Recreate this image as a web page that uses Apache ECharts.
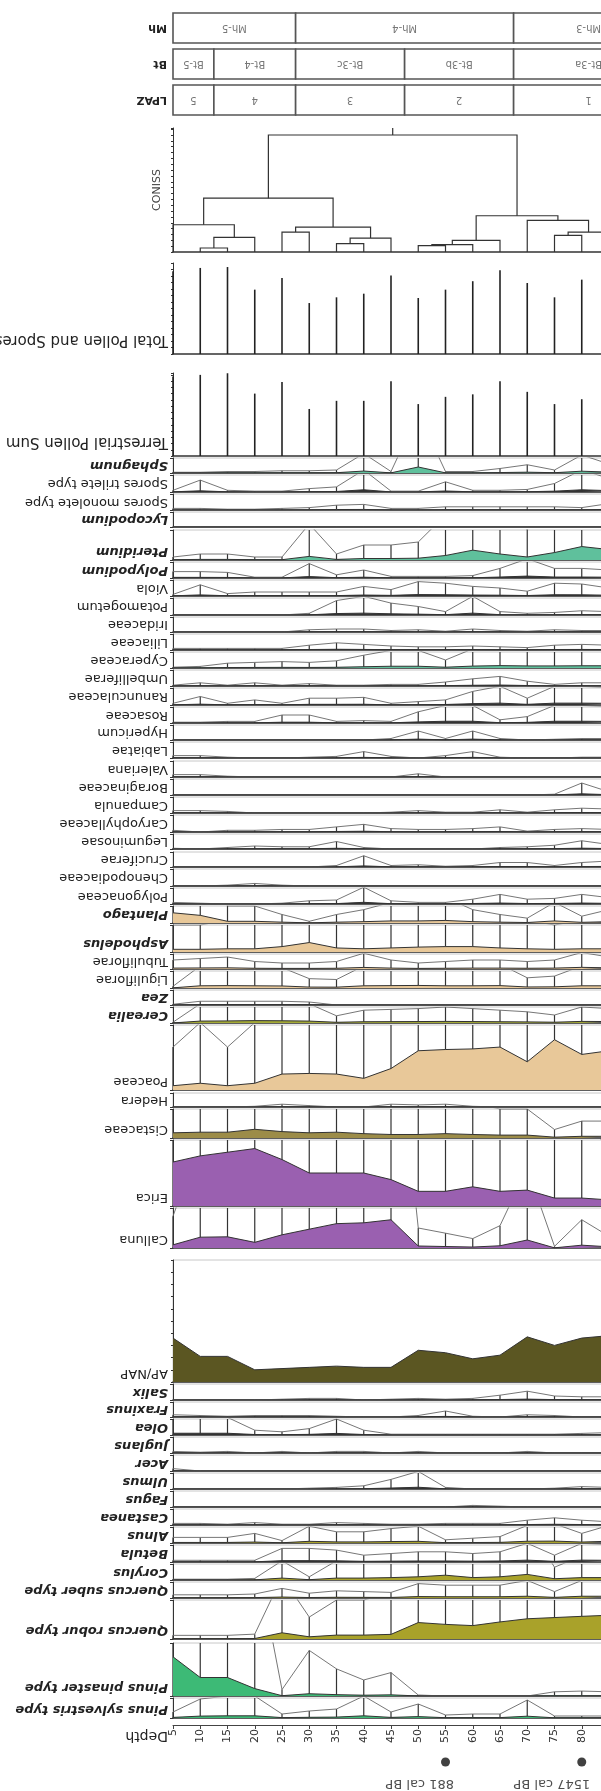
<!DOCTYPE html>
<html>
<head>
<meta charset="utf-8">
<script src="https://cdn.jsdelivr.net/npm/echarts@6/dist/echarts.min.js"></script>
<style>
html, body { margin: 0; padding: 0; background: #fff; overflow: hidden; }
#chart { width: 620px; height: 1791px; }
</style>
</head>
<body>
<div id="chart"></div>
<script>
// sample depths (cm)
const depths = [5, 10, 15, 20, 25, 30, 35, 40, 45, 50, 55, 60, 65, 70, 75, 80, 85];

// pollen sums (grains)
const totalPollen = [637, 662, 669, 495, 585, 392, 436, 464, 603, 431, 495, 560, 644, 546, 436, 572, 520];
const terrestrialSum = [637, 650, 663, 500, 592, 377, 442, 442, 598, 416, 474, 494, 598, 514, 416, 455, 480];

// CONISS merges: [a, b, height]; ids < 17 are samples, later ids are merges in order
const conissMerges = [
    [1, 2, 0.34], [17, 3, 1.25], [0, 18, 2.33], [4, 5, 1.7], [6, 7, 0.71], [21, 8, 1.19],
    [20, 22, 2.13], [19, 23, 4.6], [9, 10, 0.55], [25, 11, 0.63], [26, 12, 0.99],
    [14, 15, 1.42], [28, 16, 1.7], [13, 29, 2.7], [27, 30, 3.1], [24, 31, 10.0]
];

// zones (depth limits)
const mhBounds = [5, 27.5, 67.5, 95];
const mhNames = ['Mh-5', 'Mh-4', 'Mh-3'];
const btBounds = [5, 12.5, 27.5, 47.5, 67.5, 95];
const btNames = ['Bt-5', 'Bt-4', 'Bt-3c', 'Bt-3b', 'Bt-3a'];
const lpazBounds = [5, 12.5, 27.5, 47.5, 67.5, 95];
const lpazNames = ['5', '4', '3', '2', '1'];

// taxa percentages
const sphagnum = [0.05, 0.05, 0.1, 0.1, 0.15, 0.15, 0.2, 1.3, 0.1, 4, 0.1, 0.1, 0.3, 0.55, 0.2, 1.2, 0.6];
const sporesTrilete = [0.1, 0.7, 0.1, 0.05, 0.05, 0.2, 0.3, 1.3, 0.05, 0.05, 0.6, 0.1, 0.1, 0.15, 0.5, 1.3, 0.8];
const sporesMonolete = [0.1, 0.1, 0.05, 0.05, 0.1, 0.15, 0.3, 0.35, 0.1, 0.1, 0.2, 0.2, 0.2, 0.2, 0.2, 0.15, 0.4];
const lycopodium = [0, 0, 0, 0, 0, 0, 0, 0, 0, 0, 0, 0, 0, 0, 0, 0, 0];
const pteridium = [0.25, 0.5, 0.5, 0.25, 0.25, 3, 0.5, 1.25, 1.25, 1.5, 3.75, 8.2, 5, 2.5, 6.2, 11.2, 8.7];
const polypodium = [0.4, 0.4, 0.35, 0.05, 0.05, 0.9, 0.2, 0.5, 0.1, 0.1, 0.1, 0.15, 0.6, 1.2, 0.6, 0.6, 0.5];
const viola = [0.1, 0.7, 0.15, 0.25, 0.25, 0.25, 0.25, 0.6, 0.4, 0.9, 0.8, 0.6, 0.5, 0.3, 0.8, 0.75, 0.5];
const potamogetum = [0, 0, 0, 0, 0, 0.1, 0.85, 1.1, 0.7, 0.5, 0.2, 1.1, 0.2, 0.1, 0.15, 0.25, 0.2];
const iridaceae = [0, 0, 0, 0, 0, 0.15, 0.2, 0.2, 0.1, 0.15, 0.05, 0.2, 0.1, 0.05, 0.15, 0.1, 0.1];
const liliaceae = [0.1, 0.1, 0.1, 0.1, 0.1, 0.3, 0.45, 0.35, 0.25, 0.2, 0.2, 0.25, 0.2, 0.15, 0.3, 0.35, 0.3];
const cyperaceae = [0.05, 0.1, 0.3, 0.35, 0.4, 0.35, 0.45, 0.8, 1.1, 1.1, 0.5, 1.2, 1.5, 1.3, 1.3, 1.4, 1.4];
const umbelliferae = [0.05, 0.2, 0.05, 0.2, 0.05, 0.15, 0.05, 0.05, 0.1, 0.1, 0.25, 0.45, 0.6, 0.3, 0.1, 0.2, 0.2];
const ranunculaceae = [0.1, 0.5, 0.1, 0.3, 0.1, 0.4, 0.4, 0.45, 0.1, 0.2, 0.3, 0.8, 1.1, 0.4, 1.1, 1.1, 1.0];
const rosaceae = [0.05, 0.05, 0.1, 0.1, 0.5, 0.5, 0.1, 0.15, 0.1, 0.7, 1.1, 1.1, 0.2, 0.4, 1.1, 1.1, 1.0];
const hypericum = [0, 0, 0, 0, 0, 0, 0, 0, 0.1, 0.6, 0.1, 0.6, 0.1, 0, 0.05, 0.1, 0.1];
const labiatae = [0.15, 0.15, 0.05, 0, 0, 0.05, 0.1, 0.4, 0.1, 0, 0.15, 0.4, 0.05, 0, 0, 0.05, 0.05];
const valeriana = [0.15, 0.15, 0.05, 0, 0, 0, 0, 0, 0, 0.2, 0, 0, 0, 0, 0, 0, 0];
const boraginaceae = [0, 0, 0, 0, 0, 0, 0, 0, 0, 0, 0, 0, 0, 0, 0.05, 0.75, 0.2];
const campanula = [0.15, 0.15, 0.1, 0, 0, 0, 0, 0, 0.05, 0.15, 0.05, 0.05, 0.2, 0.05, 0.2, 0.3, 0.25];
const caryophyllaceae = [0.1, 0, 0.1, 0.1, 0.15, 0.15, 0.3, 0.45, 0.2, 0.15, 0.15, 0.2, 0.3, 0.05, 0.15, 0.2, 0.15];
const leguminosae = [0.05, 0, 0.1, 0.2, 0.15, 0.15, 0.5, 0.1, 0, 0, 0, 0, 0.1, 0.15, 0.25, 0.55, 0.3];
const cruciferae = [0, 0, 0, 0, 0, 0, 0.1, 0.75, 0.1, 0.15, 0.05, 0.1, 0.3, 0.3, 0.1, 0.3, 0.4];
const chenopodiaceae = [0, 0, 0.05, 0.15, 0.05, 0, 0, 0, 0, 0, 0, 0, 0, 0, 0, 0, 0];
const polygonaceae = [0.1, 0.05, 0, 0, 0.05, 0.2, 0.25, 1.05, 0.2, 0.1, 0.1, 0.3, 0.6, 0.3, 0.35, 0.6, 0.4];
const plantago = [8.4, 6.3, 1.4, 1.4, 0.7, 0.14, 0.7, 1.1, 1.7, 1.7, 2.1, 1.1, 0.7, 0.4, 1.7, 0.56, 1.1];
const asphodelus = [2.2, 2.2, 2.6, 2.6, 4.4, 7.7, 3.3, 2.6, 3.3, 4, 4.4, 4.4, 3.3, 2.6, 2.2, 2.6, 2.6];
const tubuliflorae = [0.6, 0.7, 0.8, 0.5, 0.4, 0.4, 0.5, 1.05, 0.6, 0.4, 0.5, 0.6, 0.6, 0.5, 0.6, 1.1, 0.8];
const liguliflorae = [0.1, 1.3, 1.4, 1.3, 1.2, 0.55, 0.5, 1.3, 1.4, 1.5, 1.3, 1.3, 1.4, 0.6, 0.7, 1.3, 1.3];
const zea = [0.05, 0.25, 0.25, 0.25, 0.25, 0.2, 0, 0, 0, 0, 0, 0, 0, 0, 0, 0, 0];
const cerealia = [0.05, 1.2, 1.3, 1.5, 1.4, 1.2, 0.45, 0.8, 0.85, 0.9, 1.0, 0.9, 0.8, 0.7, 0.5, 1.0, 0.9];
const poaceae = [3.5, 5.5, 3.5, 5.5, 13, 13.5, 13, 9.5, 17.5, 32, 33, 33.5, 35, 23, 41, 29, 32];
const hedera = [0, 0, 0, 0.05, 0.2, 0.1, 0, 0, 0.2, 0.15, 0.2, 0.05, 0, 0, 0, 0, 0];
const cistaceae = [4.3, 4.8, 4.8, 7.2, 5.3, 4.3, 4.8, 3.6, 2.9, 2.9, 3.6, 2.9, 2.4, 2.4, 0.7, 1.4, 1.4];
const erica = [36, 41, 44, 47, 38, 27, 27, 27, 21.6, 12, 12, 15.7, 12, 13, 6.5, 6.5, 5];
const calluna = [2.7, 9.2, 9.5, 4.8, 11.2, 16, 20.7, 21.4, 24, 1.7, 1.26, 0.8, 1.9, 6.8, 0.14, 2.4, 1.0];
const apNap = [36, 21, 21, 10, 11, 12, 13, 12, 12, 26, 24, 19, 22, 37, 30, 36, 38];
const salix = [0, 0, 0, 0, 0.05, 0.1, 0.1, 0, 0.05, 0.1, 0.05, 0.1, 0.3, 0.55, 0.25, 0.2, 0.2];
const fraxinus = [0.15, 0.1, 0.05, 0.1, 0.1, 0.1, 0.05, 0, 0, 0.1, 0.4, 0.05, 0, 0.15, 0.1, 0, 0];
const olea = [1.1, 1.1, 1.1, 0.3, 0.2, 0.4, 1.0, 0.3, 0.05, 0.05, 0.05, 0.05, 0.05, 0.05, 0.05, 0.1, 0.15];
const juglans = [0.1, 0.05, 0.1, 0, 0.1, 0, 0.1, 0.1, 0, 0.1, 0, 0, 0, 0.1, 0, 0, 0];
const acer = [0.15, 0, 0, 0, 0, 0, 0, 0, 0, 0, 0, 0, 0, 0, 0, 0, 0];
const ulmus = [0, 0, 0, 0, 0, 0.05, 0.1, 0.2, 0.6, 1.1, 0.1, 0, 0, 0, 0.05, 0.15, 0.1];
const fagus = [0, 0, 0, 0, 0, 0, 0, 0, 0, 0, 0, 0.1, 0.05, 0, 0, 0, 0];
const castanea = [0.1, 0.1, 0.05, 0.15, 0.05, 0.05, 0.15, 0.1, 0.05, 0.05, 0.1, 0.1, 0.1, 0.3, 0.45, 0.3, 0.2];
const alnus = [0.35, 0.35, 0.35, 0.6, 0.15, 1.05, 0.7, 0.7, 0.9, 1.05, 0.2, 0.3, 0.4, 1.1, 1.2, 0.6, 1.1];
const betula = [0.1, 0.1, 0.1, 0.1, 0.8, 0.8, 0.7, 0.4, 0.5, 0.6, 0.6, 0.5, 0.6, 1.1, 0.4, 1.1, 1.0];
const corylus = [0.05, 0.05, 0.05, 0.1, 1.2, 0.2, 1.2, 1.2, 1.5, 2, 3, 1.5, 2, 3.5, 0.8, 1.5, 1.5];
const quercusSuber = [0.2, 0.2, 0.2, 0.25, 0.6, 0.3, 0.45, 0.4, 0.35, 0.9, 0.8, 0.8, 0.8, 1.1, 0.4, 1.1, 1.1];
const quercusRobur = [0.3, 0.3, 0.3, 0.4, 5.1, 1.8, 3.2, 3.2, 3.8, 13.5, 12, 11, 14, 16.6, 17.6, 18.6, 19.5];
const pinusPinaster = [31.8, 15, 15, 6, 0.26, 1.85, 1.1, 0.65, 0.95, 0.04, 0, 0, 0, 0, 0.17, 0.2, 0.17];
const pinusSylvestris = [0.3, 0.95, 1.1, 1.1, 0.2, 0.35, 0.45, 1.1, 0.3, 0.7, 0.15, 0.2, 0.2, 0.9, 0.1, 0.1, 0.1];

// dated levels
const datedDepths = [55, 80];
const datedLabels = ['881 cal BP', '1547 cal BP'];

// strip layout: [label, data, top, bottom, axis max, exaggeration, fill, italic]
const GREEN = '#5fc09c', PINE = '#3dba76', TAN = '#e8c899', OLIVE = '#a9a22a',
      CIST = '#9c8c48', PURPLE = '#9a60b0', DARK = '#333';
const strips = [
    ['Sphagnum', sphagnum, 458, 473, 10, 10, GREEN, true],
    ['Spores trilete type', sporesTrilete, 475, 492, 10, 10, DARK, false],
    ['Spores monolete type', sporesMonolete, 494, 510, 10, 10, '#aaa', false],
    ['Lycopodium', lycopodium, 512, 527, 10, 10, DARK, true],
    ['Pteridium', pteridium, 530, 560, 25, 10, GREEN, true],
    ['Polypodium', polypodium, 562, 578, 10, 10, DARK, true],
    ['Viola', viola, 580, 596, 10, 10, DARK, false],
    ['Potamogetum', potamogetum, 598, 615, 10, 10, DARK, false],
    ['Iridaceae', iridaceae, 617, 632, 10, 10, DARK, false],
    ['Liliaceae', liliaceae, 634, 650, 10, 10, DARK, false],
    ['Cyperaceae', cyperaceae, 652, 668, 10, 10, GREEN, false],
    ['Umbelliferae', umbelliferae, 670, 686, 10, 10, DARK, false],
    ['Ranunculaceae', ranunculaceae, 688, 705, 10, 10, DARK, false],
    ['Rosaceae', rosaceae, 707, 723, 10, 10, DARK, false],
    ['Hypericum', hypericum, 725, 740, 10, 10, DARK, false],
    ['Labiatae', labiatae, 742, 758, 10, 10, DARK, false],
    ['Valeriana', valeriana, 761, 777, 10, 10, DARK, false],
    ['Boraginaceae', boraginaceae, 779, 795, 10, 10, DARK, false],
    ['Campanula', campanula, 797, 813, 10, 10, DARK, false],
    ['Caryophyllaceae', caryophyllaceae, 815, 832, 10, 10, DARK, false],
    ['Leguminosae', leguminosae, 834, 849, 10, 10, DARK, false],
    ['Cruciferae', cruciferae, 852, 867, 10, 10, DARK, false],
    ['Chenopodiaceae', chenopodiaceae, 869, 886, 10, 10, DARK, false],
    ['Polygonaceae', polygonaceae, 888, 904, 10, 10, DARK, false],
    ['Plantago', plantago, 906, 923, 14, 10, TAN, true],
    ['Asphodelus', asphodelus, 925, 952, 22, 10, TAN, true],
    ['Tubuliflorae', tubuliflorae, 954, 969, 10, 10, TAN, false],
    ['Liguliflorae', liguliflorae, 971, 988, 10, 10, TAN, false],
    ['Zea', zea, 990, 1005, 10, 10, DARK, true],
    ['Cerealia', cerealia, 1007, 1023, 10, 10, '#a4aa36', true],
    ['Poaceae', poaceae, 1025, 1090, 53, 10, TAN, false],
    ['Hedera', hedera, 1093, 1107, 10, 10, DARK, false],
    ['Cistaceae', cistaceae, 1109, 1138, 24, 10, CIST, false],
    ['Erica', erica, 1140, 1206, 54, 10, PURPLE, false],
    ['Calluna', calluna, 1208, 1248, 34, 10, PURPLE, false],
    ['AP/NAP', apNap, 1260, 1382, 100, 0, '#5b5622', false],
    ['Salix', salix, 1384, 1400, 10, 10, DARK, true],
    ['Fraxinus', fraxinus, 1402, 1417, 10, 10, DARK, true],
    ['Olea', olea, 1419, 1435, 10, 10, DARK, true],
    ['Juglans', juglans, 1437, 1453, 10, 10, DARK, true],
    ['Acer', acer, 1455, 1471, 10, 10, DARK, true],
    ['Ulmus', ulmus, 1473, 1489, 10, 10, DARK, true],
    ['Fagus', fagus, 1491, 1507, 10, 10, DARK, true],
    ['Castanea', castanea, 1509, 1525, 10, 10, DARK, true],
    ['Alnus', alnus, 1527, 1543, 10, 10, OLIVE, true],
    ['Betula', betula, 1545, 1562, 10, 10, DARK, true],
    ['Corylus', corylus, 1564, 1580, 10, 10, OLIVE, true],
    ['Quercus suber type', quercusSuber, 1582, 1598, 10, 10, OLIVE, true],
    ['Quercus robur type', quercusRobur, 1600, 1639, 32, 10, OLIVE, true],
    ['Pinus pinaster type', pinusPinaster, 1643, 1696, 43, 20, PINE, true],
    ['Pinus sylvestris type', pinusSylvestris, 1698, 1718, 10, 10, PINE, true]
];

const FONT = 'DejaVu Sans';
const grids = [], xAxes = [], yAxes = [], series = [], labels = [];

function pairs(vals) {
    return depths.map((d, i) => [d, vals[i]]);
}

function addGrid(top, bottom, border, baseline) {
    const gi = grids.length;
    grids.push({
        left: 173, right: 11, top: top, height: bottom - top,
        show: border, borderColor: '#c8c8c8', borderWidth: 1
    });
    xAxes.push({
        gridIndex: gi, type: 'value', min: 5, max: 85, interval: 5,
        axisLine: { show: baseline, onZero: false, lineStyle: { color: '#333', width: 1.5 } },
        axisTick: { show: false }, axisLabel: { show: false }, splitLine: { show: false }
    });
    return gi;
}

// upside-down name to the left of a strip, close to its baseline
function stripLabel(name, top, bottom, italic, size) {
    const h = bottom - top;
    const off = h < 20 ? h / 2 : 9;
    labels.push({
        type: 'text', x: 168, y: bottom - off, rotation: Math.PI, silent: true,
        style: {
            text: name, align: 'left', verticalAlign: 'middle', fill: '#222',
            font: (italic ? 'italic bold ' : '') + (size || 13) + 'px "' + FONT + '"'
        }
    });
}

function leftAxis(gi, max, interval, tickLen) {
    yAxes.push({
        gridIndex: gi, type: 'value', min: 0, max: max, interval: interval,
        axisLine: { show: true, lineStyle: { color: '#333', width: 1 } },
        axisTick: { show: true, length: tickLen, lineStyle: { color: '#333' } },
        axisLabel: { show: false }, splitLine: { show: false }
    });
    return yAxes.length - 1;
}

// zone table
function zoneRow(top, bottom, label, bounds, names) {
    const gi = addGrid(top, bottom, false, false);
    const yi = yAxes.length;
    yAxes.push({
        gridIndex: gi, type: 'value', min: 0, max: 1,
        name: label, nameLocation: 'middle', nameRotate: 180, nameGap: 6,
        nameTextStyle: { fontFamily: FONT, fontSize: 11, fontWeight: 'bold', color: '#222' },
        axisLine: { show: false }, axisTick: { show: false }, axisLabel: { show: false }, splitLine: { show: false }
    });
    series.push({
        type: 'custom', xAxisIndex: gi, yAxisIndex: yi, silent: true,
        data: names.map((n, i) => ({ name: n, value: [bounds[i], bounds[i + 1]] })),
        renderItem: function (params, api) {
            const a = api.coord([api.value(0), 1]);
            const b = api.coord([api.value(1), 0]);
            return {
                type: 'group', children: [
                    { type: 'rect', shape: { x: a[0], y: a[1], width: b[0] - a[0], height: b[1] - a[1] },
                      style: { fill: '#fff', stroke: '#555', lineWidth: 1.6 } },
                    { type: 'text', x: (a[0] + b[0]) / 2, y: (a[1] + b[1]) / 2, rotation: Math.PI,
                      style: { text: names[params.dataIndex], align: 'center', verticalAlign: 'middle',
                               fill: '#777', font: '10px "' + FONT + '"' } }
                ]
            };
        }
    });
}
zoneRow(13, 43, 'Mh', mhBounds, mhNames);
zoneRow(49, 79, 'Bt', btBounds, btNames);
zoneRow(85, 115, 'LPAZ', lpazBounds, lpazNames);

// CONISS dendrogram
(function () {
    const gi = addGrid(128, 252, false, true);
    const yi = leftAxis(gi, 10.6, 0.5, 2);
    const xs = depths.slice(), hs = depths.map(() => 0);
    const segs = [];
    conissMerges.forEach(m => {
        const a = m[0], b = m[1], h = m[2];
        segs.push({ coords: [[xs[a], hs[a]], [xs[a], h], [xs[b], h], [xs[b], hs[b]]] });
        xs.push((xs[a] + xs[b]) / 2);
        hs.push(h);
    });
    const root = xs.length - 1;
    segs.push({ coords: [[xs[root], hs[root]], [xs[root], 10.6]] });
    series.push({
        type: 'lines', coordinateSystem: 'cartesian2d', xAxisIndex: gi, yAxisIndex: yi,
        polyline: true, silent: true, data: segs,
        lineStyle: { color: '#333', width: 1.2, opacity: 1 }
    });
})();

// pollen sums
function sumStrip(name, vals, top, bottom, max) {
    const gi = addGrid(top, bottom, false, true);
    const yi = leftAxis(gi, max, 50, 2);
    stripLabel(name, top, bottom - 5, false, 15);
    series.push({
        type: 'bar', xAxisIndex: gi, yAxisIndex: yi, data: pairs(vals),
        barWidth: 1.6, itemStyle: { color: '#222' }, silent: true
    });
}
sumStrip('Total Pollen and Spores', totalPollen, 263, 354, 700);
sumStrip('Terrestrial Pollen Sum', terrestrialSum, 373, 456, 665);

// taxa strips
strips.forEach(s => {
    const [name, vals, top, bottom, max, exag, fill, italic] = s;
    const gi = addGrid(top, bottom, true, true);
    const many = name === 'AP/NAP';
    const yi = leftAxis(gi, max, many ? 10 : max, many ? 2 : 3);
    stripLabel(name, top, bottom, italic);
    if (exag) {
        const ye = yAxes.length;
        yAxes.push({ gridIndex: gi, type: 'value', min: 0, max: max / exag, show: false });
        series.push({
            type: 'line', xAxisIndex: gi, yAxisIndex: ye, data: pairs(vals), symbol: 'none',
            lineStyle: { color: '#666', width: 0.9 }, z: 2, silent: true
        });
        series.push({
            type: 'bar', xAxisIndex: gi, yAxisIndex: ye, data: pairs(vals), barWidth: 1.2,
            itemStyle: { color: '#333' }, z: 2, silent: true
        });
    }
    series.push({
        type: 'line', xAxisIndex: gi, yAxisIndex: yi, data: pairs(vals), symbol: 'none',
        lineStyle: { color: '#333', width: 1 }, areaStyle: { color: fill, opacity: 1 },
        z: 3, silent: true
    });
});

// depth axis
(function () {
    const gi = addGrid(1700, 1725, false, false);
    xAxes[gi].axisLine = { show: true, onZero: false, lineStyle: { color: '#444', width: 1 } };
    xAxes[gi].axisTick = { show: true, length: 4, lineStyle: { color: '#444' } };
    xAxes[gi].axisLabel = { show: true, rotate: 90, margin: 4, fontFamily: FONT, fontSize: 11, color: '#333' };
    yAxes.push({ gridIndex: gi, type: 'value', min: 0, max: 1, show: false });
})();

// dated levels
(function () {
    const gi = addGrid(1756, 1768, false, false);
    const yi = yAxes.length;
    yAxes.push({ gridIndex: gi, type: 'value', min: 0, max: 1, show: false });
    series.push({
        type: 'scatter', xAxisIndex: gi, yAxisIndex: yi, symbolSize: 9, silent: true,
        itemStyle: { color: '#111' },
        data: datedDepths.map(d => [d, 0.5]),
        label: {
            show: true, position: [13, 26], rotate: 180, align: 'left', verticalAlign: 'middle',
            fontFamily: FONT, fontSize: 13, color: '#222',
            formatter: p => datedLabels[p.dataIndex]
        }
    });
})();

labels.push(
    { type: 'text', x: 168, y: 1736, rotation: Math.PI,
      style: { text: 'Depth', align: 'left', verticalAlign: 'middle', fill: '#222', font: '14px "' + FONT + '"' } },
    { type: 'text', x: 157, y: 190, rotation: Math.PI / 2,
      style: { text: 'CONISS', align: 'center', verticalAlign: 'middle', fill: '#444', font: '11px "' + FONT + '"' } }
);

const chart = echarts.init(document.getElementById('chart'), null, { renderer: 'canvas' });
chart.setOption({
    animation: false,
    backgroundColor: '#fff',
    grid: grids,
    xAxis: xAxes,
    yAxis: yAxes,
    series: series,
    graphic: labels
});
</script>
</body>
</html>
